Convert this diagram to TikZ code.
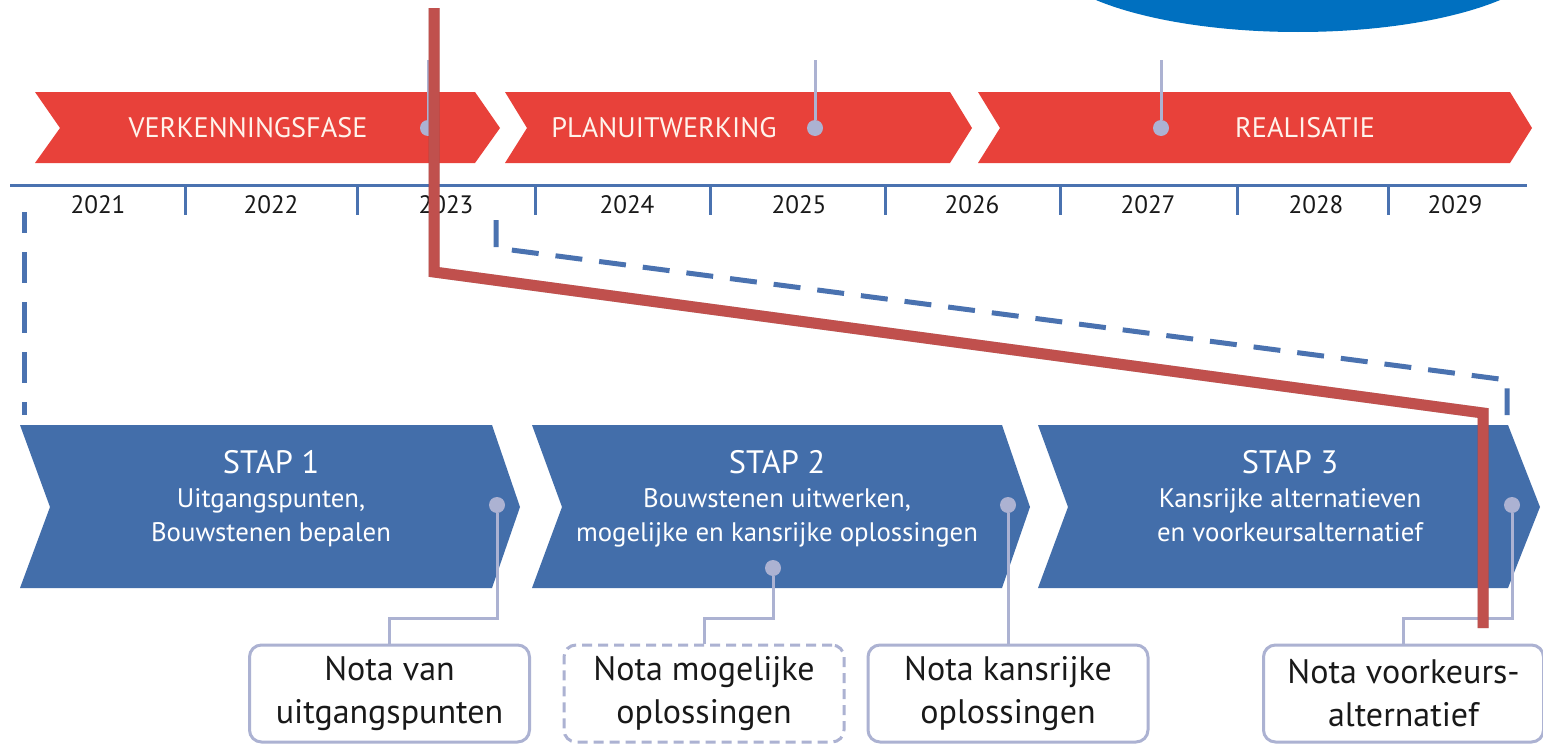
\documentclass[tikz,border=0pt]{standalone}
\usepackage{fontspec}
\setmainfont{PT Sans}
\usetikzlibrary{calc}
\definecolor{redfase}{RGB}{232,65,58}
\definecolor{bluestap}{RGB}{67,110,170}
\definecolor{axisblue}{RGB}{74,114,176}
\definecolor{lav}{RGB}{172,178,210}
\definecolor{annot}{RGB}{192,80,77}
\definecolor{ellblue}{RGB}{0,112,192}
\definecolor{cream}{RGB}{255,243,235}
\definecolor{txt}{RGB}{25,25,25}
\tikzset{
  fase/.style={fill=redfase},
  stapshape/.style={fill=bluestap},
  fasetext/.style={text=cream, font=\fontsize{14.1}{16}\selectfont, inner sep=0},
  yearlabel/.style={font=\fontsize{12.6}{14}\selectfont, text=txt, anchor=base, inner sep=0},
  tickline/.style={axisblue, line width=1.5pt},
  dot/.style={circle, fill=lav, minimum size=8pt, inner sep=0},
  conn/.style={lav, line width=1.5pt},
  staptitle/.style={text=white, font=\fontsize{16.2}{19}\selectfont, anchor=base, inner sep=0},
  stapsub/.style={text=white, font=\fontsize{13.4}{16}\selectfont, anchor=base, inner sep=0},
  notebox/.style={draw=lav, line width=1.5pt, rounded corners=6pt, fill=white,
     minimum width=140pt, minimum height=48.5pt, inner sep=0, align=center,
     text=txt, font=\fontsize{17}{21.5}\selectfont},
  dashline/.style={axisblue, line width=2.5pt},
  annotline/.style={annot, line width=5.5pt},
}
\begin{document}
\begin{tikzpicture}[x=0.5pt,y=-0.5pt]
\useasboundingbox (0,0) rectangle (1543,744);
\clip (0,0) rectangle (1543,744);
\fill[white] (0,0) rectangle (1543,744);
% blue ellipse top right
\fill[ellblue] (1298,-50) ellipse [x radius=255, y radius=82];

% red phase chevrons
\fill[fase] (35,92) -- (475,92) -- (500,128) -- (475,163) -- (35,163) -- (60,128) -- cycle;
\fill[fase] (505,92) -- (950,92) -- (972,128) -- (950,163) -- (505,163) -- (527,128) -- cycle;
\fill[fase] (978,92) -- (1510,92) -- (1532,128) -- (1510,163) -- (978,163) -- (1000,128) -- cycle;
\node[fasetext] (f1) at (248,128) {VERKENNINGSFASE};
\node[fasetext] (f2) at (664,128) {PLANUITWERKING};
\node[fasetext] (f3) at (1305,128) {REALISATIE};

% milestone dots on phases
\coordinate (p1top) at (428,60);
\coordinate (p2top) at (815,60);
\coordinate (p3top) at (1161,60);
\node[dot] (p1) at (428,128) {};
\node[dot] (p2) at (815,128) {};
\node[dot] (p3) at (1161,128) {};
\draw[conn] (p1top) -- (p1);
\draw[conn] (p2top) -- (p2);
\draw[conn] (p3top) -- (p3);

% time axis
\coordinate (ax0) at (10,185);
\coordinate (ax1) at (1527,185);
\draw[tickline] (ax0) -- (ax1);
\foreach \x in {185,357,535,710,885,1060,1237,1388}{
  \draw[tickline] (\x,185) -- (\x,215);
}
\node[yearlabel] (y1) at (98,213) {2021};
\node[yearlabel] (y2) at (271,213) {2022};
\node[yearlabel] (y3) at (446,213) {2023};
\node[yearlabel] (y4) at (627,213) {2024};
\node[yearlabel] (y5) at (799,213) {2025};
\node[yearlabel] (y6) at (972,213) {2026};
\node[yearlabel] (y7) at (1148,213) {2027};
\node[yearlabel] (y8) at (1316,213) {2028};
\node[yearlabel] (y9) at (1455,213) {2029};

% dashed zoom lines
\coordinate (dl1) at (24,212);
\coordinate (dl2) at (24,415);
\draw[dashline, dash pattern=on 15.5pt off 9.5pt, dash phase=5pt] (dl1) -- (dl2);
\coordinate (dr1) at (496,220);
\coordinate (dr2) at (496,248);
\coordinate (dr3) at (1507,380);
\coordinate (dr4) at (1507,415);
\draw[dashline, dash pattern=on 13.5pt off 8.5pt] (dr1) -- (dr2) -- (dr3) -- (dr4);

% blue step chevrons
\fill[stapshape] (20,425) -- (492,425) -- (520,507) -- (492,588) -- (20,588) -- (50,507) -- cycle;
\fill[stapshape] (532,425) -- (1002,425) -- (1030,507) -- (1002,588) -- (532,588) -- (562,507) -- cycle;
\fill[stapshape] (1038,425) -- (1508,425) -- (1540,507) -- (1508,588) -- (1038,588) -- (1068,507) -- cycle;

\node[staptitle] (s1) at (271,473) {STAP 1};
\node[stapsub] (s1a) at (271,507) {Uitgangspunten,};
\node[stapsub] (s1b) at (271,541) {Bouwstenen bepalen};
\node[staptitle] (s2) at (777,473) {STAP 2};
\node[stapsub] (s2a) at (777,507) {Bouwstenen uitwerken,};
\node[stapsub] (s2b) at (777,541) {mogelijke en kansrijke oplossingen};
\node[staptitle] (s3) at (1290,473) {STAP 3};
\node[stapsub] (s3a) at (1290,507) {Kansrijke alternatieven};
\node[stapsub] (s3b) at (1290,541) {en voorkeursalternatief};

% note boxes
\node[notebox] (b1) at (389.5,693.5) {Nota van\\uitgangspunten};
\node[notebox, dashed, dash pattern=on 5pt off 3pt] (b2) at (704,693.5) {Nota mogelijke\\oplossingen};
\node[notebox] (b3) at (1008,693.5) {Nota kansrijke\\oplossingen};
\node[notebox] (b4) at (1403.5,693.5) {Nota voorkeurs-\\alternatief};

% dots and connectors to boxes
\node[dot] (d1) at (497,505) {};
\node[dot] (d2) at (773,568) {};
\node[dot] (d3) at (1008,505) {};
\node[dot] (d4) at (1512,505) {};
\coordinate (lvl) at (0,618);
\draw[conn] (d1) -- (d1 |- lvl) -| (b1.north);
\draw[conn] (d2) -- (d2 |- lvl) -| (b2.north);
\draw[conn] (d3) -- (b3.north);
\draw[conn] (d4) -- (d4 |- lvl) -| (b4.north);

% red annotation line with shadow
\coordinate (r1) at (434,8);
\coordinate (r2) at (434,272);
\coordinate (r3) at (1483,413);
\coordinate (r4) at (1483,628);
\draw[black, opacity=0.18, line width=5.5pt, shift={(3,4)}] (r1) -- (r2) -- (r3) -- (r4);
\draw[annotline] (r1) -- (r2) -- (r3) -- (r4);
\end{tikzpicture}
\end{document}
